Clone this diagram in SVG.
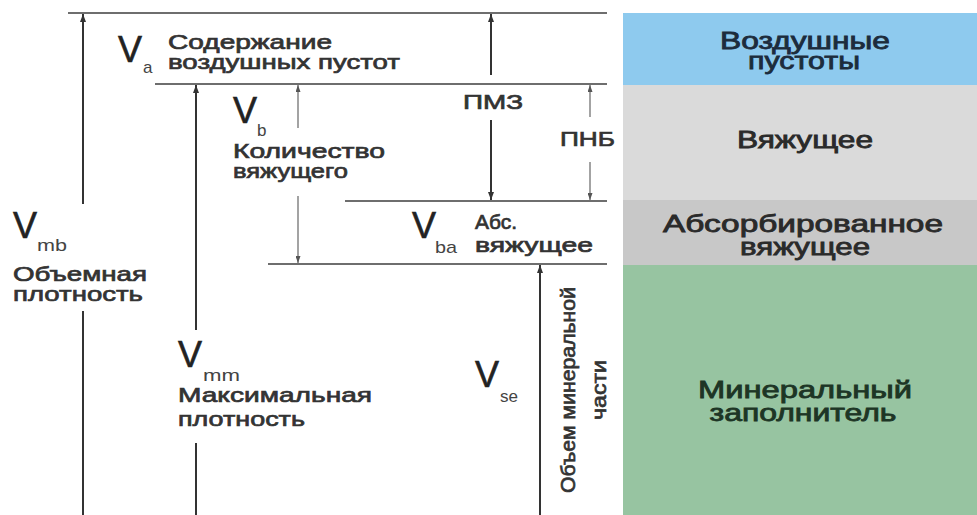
<svg xmlns="http://www.w3.org/2000/svg" width="977" height="515" viewBox="0 0 977 515">
<defs>
<marker id="ah" viewBox="0 0 8 6" refX="8" refY="3" markerWidth="8" markerHeight="6" markerUnits="userSpaceOnUse" orient="auto-start-reverse">
<path d="M0,0 L8,3 L0,6 z" fill="#333"/>
</marker>
<marker id="aht" viewBox="0 0 7 5" refX="7" refY="2.5" markerWidth="7" markerHeight="5" markerUnits="userSpaceOnUse" orient="auto-start-reverse">
<path d="M0,0 L7,2.5 L0,5 z" fill="#555"/>
</marker>
<style>
.lvl{stroke:#6e6e6e;stroke-width:2;fill:none}
.ar{stroke:#333;stroke-width:2;fill:none}
.art{stroke:#666;stroke-width:1.2;fill:none}
.lb{font-family:"Liberation Sans",Arial,sans-serif;font-size:21px;fill:#333;stroke:#333;stroke-width:0.7px}
.big{font-family:"Liberation Sans",Arial,sans-serif;font-size:36px;fill:#222;stroke:#222;stroke-width:0.6px}
.sub{font-family:"Liberation Sans",Arial,sans-serif;font-size:17px;fill:#444}
.rl{font-family:"Liberation Sans",Arial,sans-serif;font-size:23px;text-anchor:middle;fill:#2a2a2a;stroke:#2a2a2a;stroke-width:0.8px}
.rb{fill:#1c2c3c;stroke:#1c2c3c}
.rg{fill:#1d3525;stroke:#1d3525}
</style>
</defs>
<rect width="977" height="515" fill="#ffffff"/>

<g id="layer-air">
<rect x="623" y="13" width="354" height="72" fill="#8ECAEE"/>
<text class="rl rb" x="805" y="49" textLength="170" lengthAdjust="spacingAndGlyphs">Воздушные</text>
<text class="rl rb" x="804" y="69" textLength="112" lengthAdjust="spacingAndGlyphs">пустоты</text>
</g>
<g id="layer-binder">
<rect x="623" y="85" width="354" height="115" fill="#DADADA"/>
<text class="rl" x="805" y="148" textLength="136" lengthAdjust="spacingAndGlyphs">Вяжущее</text>
</g>
<g id="layer-absorbed">
<rect x="623" y="200" width="354" height="65" fill="#C8C8C8"/>
<text class="rl" x="803" y="232" textLength="280" lengthAdjust="spacingAndGlyphs">Абсорбированное</text>
<text class="rl" x="805" y="255" textLength="130" lengthAdjust="spacingAndGlyphs">вяжущее</text>
</g>
<g id="layer-mineral">
<rect x="623" y="265" width="354" height="250" fill="#97C4A1"/>
<text class="rl rg" x="805" y="398" textLength="214" lengthAdjust="spacingAndGlyphs">Минеральный</text>
<text class="rl rg" x="803" y="421" textLength="187" lengthAdjust="spacingAndGlyphs">заполнитель</text>
</g>

<g id="levels">
<line class="lvl" x1="68" y1="13" x2="607" y2="13"/>
<line class="lvl" x1="155" y1="84" x2="607" y2="84"/>
<line class="lvl" x1="345" y1="201" x2="607" y2="201"/>
<line class="lvl" x1="268" y1="264" x2="607" y2="264"/>
</g>

<g id="connectors">
<path class="ar" d="M83 204 V14" marker-end="url(#ah)"/>
<path class="ar" d="M83 311 V515"/>
<path class="ar" d="M196 330 V85" marker-end="url(#ah)"/>
<path class="ar" d="M196 443 V515"/>
<path class="art" d="M298 128 V85" marker-end="url(#aht)"/>
<path class="art" d="M298 196 V263" marker-end="url(#aht)"/>
<path class="ar" d="M491 75 V14" marker-end="url(#ah)"/>
<path class="ar" d="M491 120 V200" marker-end="url(#ah)"/>
<path class="art" d="M590 117 V85" marker-end="url(#aht)"/>
<path class="art" d="M590 162 V200" marker-end="url(#aht)"/>
<path class="ar" d="M540 515 V265" marker-end="url(#ah)"/>
</g>

<g id="label-va">
<text class="big" x="118" y="62">V</text>
<text class="sub" x="143" y="73">a</text>
<text class="lb" x="168" y="49" textLength="164" lengthAdjust="spacingAndGlyphs">Содержание</text>
<text class="lb" x="168" y="69" textLength="232" lengthAdjust="spacingAndGlyphs">воздушных пустот</text>
</g>
<g id="label-vb">
<text class="big" x="233" y="123">V</text>
<text class="sub" x="257" y="136">b</text>
<text class="lb" x="233" y="158" textLength="152" lengthAdjust="spacingAndGlyphs">Количество</text>
<text class="lb" x="233" y="178" textLength="115" lengthAdjust="spacingAndGlyphs">вяжущего</text>
</g>
<g id="label-vmb">
<text class="big" x="13" y="238">V</text>
<text class="sub" x="37" y="251" textLength="30" lengthAdjust="spacingAndGlyphs">mb</text>
<text class="lb" x="13" y="281" textLength="134" lengthAdjust="spacingAndGlyphs">Объемная</text>
<text class="lb" x="13" y="301" textLength="130" lengthAdjust="spacingAndGlyphs">плотность</text>
</g>
<g id="label-vmm">
<text class="big" x="178" y="367">V</text>
<text class="sub" x="203" y="381" textLength="37" lengthAdjust="spacingAndGlyphs">mm</text>
<text class="lb" x="178" y="402" textLength="194" lengthAdjust="spacingAndGlyphs">Максимальная</text>
<text class="lb" x="178" y="426" textLength="127" lengthAdjust="spacingAndGlyphs">плотность</text>
</g>
<g id="label-vba">
<text class="big" x="412" y="238">V</text>
<text class="sub" x="435" y="253" textLength="22" lengthAdjust="spacingAndGlyphs">ba</text>
<text class="lb" x="475" y="229" textLength="42" lengthAdjust="spacingAndGlyphs">Абс.</text>
<text class="lb" x="475" y="252" textLength="118" lengthAdjust="spacingAndGlyphs">вяжущее</text>
</g>
<g id="label-pmz">
<text class="lb" x="463" y="109" textLength="60" lengthAdjust="spacingAndGlyphs">ПМЗ</text>
</g>
<g id="label-pnb">
<text class="lb" x="560" y="146" textLength="55" lengthAdjust="spacingAndGlyphs">ПНБ</text>
</g>
<g id="label-vse">
<text class="big" x="475" y="387">V</text>
<text class="sub" x="500" y="402" textLength="18" lengthAdjust="spacingAndGlyphs">se</text>
<text class="lb" transform="translate(575 390) rotate(-90)" x="0" y="0" text-anchor="middle" textLength="206" lengthAdjust="spacingAndGlyphs">Объем минеральной</text>
<text class="lb" transform="translate(606 390) rotate(-90)" x="0" y="0" text-anchor="middle" textLength="60" lengthAdjust="spacingAndGlyphs">части</text>
</g>
</svg>
